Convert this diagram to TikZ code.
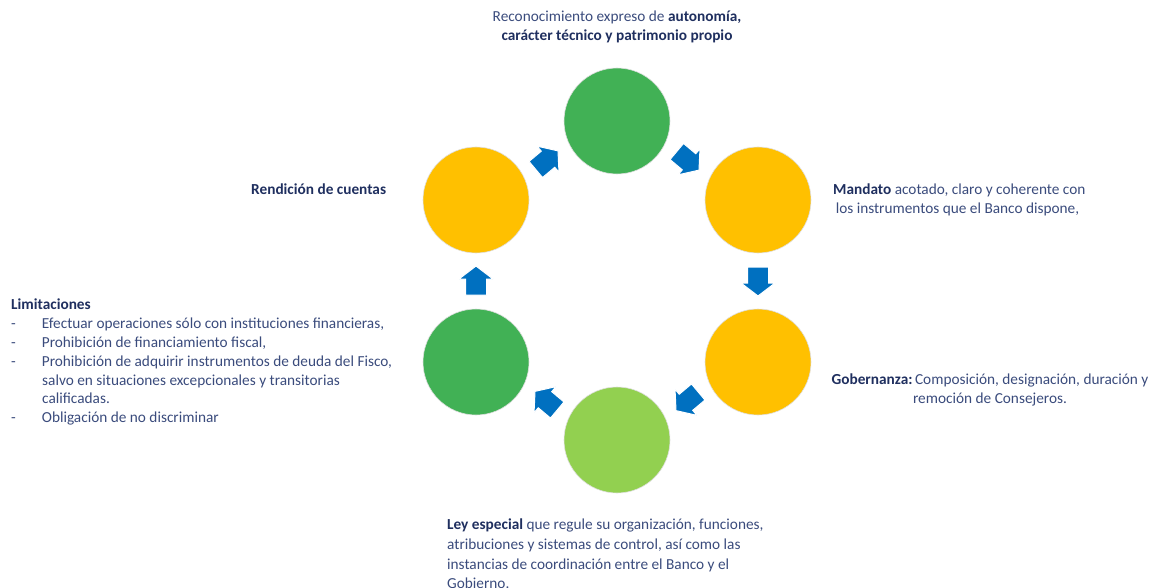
\documentclass[tikz,border=0pt]{standalone}
\usepackage{fontspec}
\setmainfont{Carlito}
\usepackage{xcolor}
\usepackage{tikz}
\usetikzlibrary{calc}

\definecolor{verde}{HTML}{41B155}
\definecolor{verdeclaro}{HTML}{92D050}
\definecolor{amarillo}{HTML}{FFC000}
\definecolor{azul}{HTML}{0070C0}
\definecolor{texto}{HTML}{3A4B7C}
\definecolor{textob}{HTML}{1F2F5F}

\tikzset{flecha/.pic={
  \fill[azul,draw=white,line width=1pt] (-14,-10.5) -- (2,-10.5) -- (2,-17) -- (15,0)
    -- (2,17) -- (2,10.5) -- (-14,10.5) -- cycle;
}}

\begin{document}
\begin{tikzpicture}[x=1pt,y=-1pt,
  bola/.style={circle,minimum size=106pt,inner sep=0pt,draw=gray!25,line width=0.6pt},
  rotulo/.style={text=texto,font=\fontsize{15.3}{19}\selectfont,inner sep=0pt}]
\useasboundingbox (0,0) rectangle (1153,588);

% circulos
\node[bola,fill=verde]      (autonomia)    at (617,121) {};
\node[bola,fill=amarillo]   (mandato)      at (758,200) {};
\node[bola,fill=amarillo]   (gobernanza)   at (758,362) {};
\node[bola,fill=verdeclaro] (ley)          at (617,440) {};
\node[bola,fill=verde]      (limitaciones) at (476,362) {};
\node[bola,fill=amarillo]   (rendicion)    at (476,200) {};

% flechas
\pic[rotate=-40]  at ($(autonomia)!.5!(mandato)$) {flecha};
\pic[rotate=-90]  at ($(mandato)!.5!(gobernanza)$) {flecha};
\pic[rotate=-140] at ($(gobernanza)!.5!(ley)$) {flecha};
\pic[rotate=140]  at ($(ley)!.5!(limitaciones)$) {flecha};
\pic[rotate=90]   at ($(limitaciones)!.5!(rendicion)$) {flecha};
\pic[rotate=40]   at ($(rendicion)!.5!(autonomia)$) {flecha};

% textos
\node[rotulo,align=center,anchor=north] (t-autonomia) at (617,11)
  {Reconocimiento expreso de \textcolor{textob}{\bfseries autonom\'ia,}\\
   \textcolor{textob}{\bfseries car\'acter t\'ecnico y patrimonio propio}};
\node[rotulo,align=left,anchor=north west] (t-mandato) at (833,184)
  {\textcolor{textob}{\bfseries Mandato} acotado, claro y coherente con\\
   \,los instrumentos que el Banco dispone,};
\node[rotulo,align=center,anchor=north] (t-gobernanza) at (990,374)
  {\textcolor{textob}{\bfseries Gobernanza:}\,Composici\'on, designaci\'on, duraci\'on y\\
   remoci\'on de Consejeros.};
\node[rotulo,align=left,anchor=north west,font=\fontsize{15.3}{19.6}\selectfont] (t-ley) at (447,519)
  {\textcolor{textob}{\bfseries Ley especial} que regule su organizaci\'on, funciones,\\
   atribuciones y sistemas de control, as\'i como las\\
   instancias de coordinaci\'on entre el Banco y el\\
   Gobierno.};
\node[rotulo,anchor=north west,text=textob,font=\fontsize{15.3}{19}\selectfont\bfseries]
  (t-rendicion) at (251,184) {Rendici\'on de cuentas};
\node[rotulo,align=left,anchor=north west,font=\fontsize{15.3}{18.8}\selectfont] (t-limitaciones) at (11,299)
  {\textcolor{textob}{\bfseries Limitaciones}\\
   -\hspace{26pt}Efectuar operaciones s\'olo con instituciones financieras,\\
   -\hspace{26pt}Prohibici\'on de financiamiento fiscal,\\
   -\hspace{26pt}Prohibici\'on de adquirir instrumentos de deuda del Fisco,\\
   \hspace{31pt}salvo en situaciones excepcionales y transitorias\\
   \hspace{31pt}calificadas.\\
   -\hspace{26pt}Obligaci\'on de no discriminar};

\end{tikzpicture}
\end{document}
